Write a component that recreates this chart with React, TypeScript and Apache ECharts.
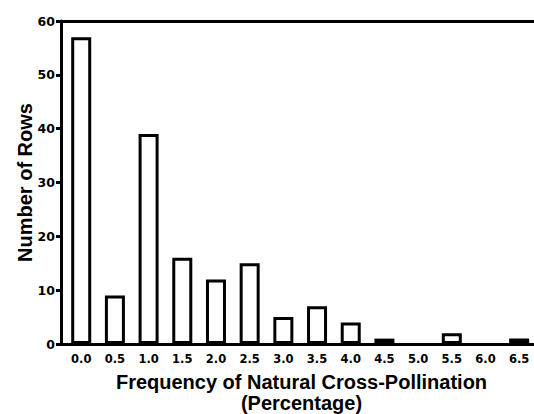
import React, { useEffect, useRef } from "react";
import * as echarts from "echarts";

const categories = [0.0, 0.5, 1.0, 1.5, 2.0, 2.5, 3.0, 3.5, 4.0, 4.5, 5.0, 5.5, 6.0, 6.5];
const counts = [57, 9, 39, 16, 12, 15, 5, 7, 4, 1, 0, 2, 0, 1];
const yTicks = [0, 10, 20, 30, 40, 50, 60];
const xTitle = "Frequency of Natural Cross-Pollination\n(Percentage)";
const yTitle = "Number of Rows";

export default function App() {
  const ref = useRef<HTMLDivElement>(null);
  useEffect(() => {
    if (!ref.current) return;
    const chart = echarts.init(ref.current, null, { renderer: "svg" });
    const xMin = -0.3;
    const xMax = 6.72;
    chart.setOption({
      animation: false,
      backgroundColor: "#ffffff",
      grid: { left: 61, right: 0, top: 21, bottom: 70, containLabel: false, outerBoundsMode: "none" },
      xAxis: [
        {
          type: "value",
          min: xMin,
          max: xMax,
          position: "bottom",
          axisLine: { show: true, onZero: false, lineStyle: { color: "#000", width: 3 } },
          axisTick: { show: false },
          splitLine: { show: false },
          axisLabel: {
            customValues: categories,
            formatter: (v: number) => v.toFixed(1),
            fontFamily: "DejaVu Sans",
            fontWeight: "bold",
            fontSize: 11.5,
            color: "#000",
            margin: 9,
          },
          name: xTitle,
          nameLocation: "middle",
          nameGap: 27,
          nameMoveOverlap: false,
          nameTextStyle: {
            fontFamily: "Liberation Sans",
            fontWeight: "bold",
            fontSize: 20,
            color: "#000",
            lineHeight: 21,
            padding: [0, 0, 0, 8],
          },
        },
        {
          type: "value",
          min: xMin,
          max: xMax,
          position: "top",
          axisLine: { show: true, onZero: false, lineStyle: { color: "#000", width: 3 } },
          axisTick: { show: false },
          splitLine: { show: false },
          axisLabel: { show: false },
        },
      ],
      yAxis: {
        type: "value",
        min: yTicks[0],
        max: yTicks[yTicks.length - 1],
        interval: 10,
        axisLine: { show: true, onZero: false, lineStyle: { color: "#000", width: 3 } },
        axisTick: {
          show: true,
          inside: false,
          length: 5,
          lineStyle: { color: "#000", width: 3, opacity: 1 },
        },
        splitLine: { show: false },
        axisLabel: {
          fontFamily: "DejaVu Sans",
          fontWeight: "bold",
          fontSize: 12.5,
          color: "#000",
          margin: 6,
        },
        name: yTitle,
        nameLocation: "middle",
        nameGap: 26,
        nameMoveOverlap: false,
        nameTextStyle: {
          fontFamily: "Liberation Sans",
          fontWeight: "bold",
          fontSize: 20,
          color: "#000",
        },
      },
      series: [
        {
          type: "bar",
          xAxisIndex: 0,
          data: categories.map((c, i) => ({
            value: [c, counts[i]],
            itemStyle: counts[i] === 0 ? { borderWidth: 0 } : undefined,
          })),
          barWidth: 20,
          itemStyle: { color: "#fff", borderColor: "#000", borderWidth: 3 },
        },
      ],
    });
    return () => chart.dispose();
  }, []);
  return <div ref={ref} style={{ width: 534, height: 414, position: "absolute", left: 0, top: 0 }} />;
}
